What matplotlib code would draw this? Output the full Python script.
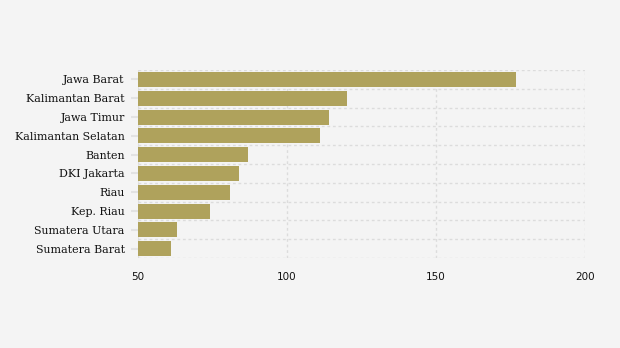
import matplotlib.pyplot as plt
import numpy as np

provinces = ['Jawa Barat', 'Kalimantan Barat', 'Jawa Timur', 'Kalimantan Selatan',
             'Banten', 'DKI Jakarta', 'Riau', 'Kep. Riau', 'Sumatera Utara',
             'Sumatera Barat']
values = [177, 120, 114, 111, 87, 84, 81, 74, 63, 61]
xticks = [50, 100, 150, 200]

bg = '#f4f4f4'
bar_color = '#afa25c'
grid_color = '#dcdcdc'

fig = plt.figure(figsize=(6.2, 3.48), dpi=100, facecolor=bg)
ax = fig.add_axes([0.2226, 0.2586, 0.721, 0.540], facecolor=bg)

ypos = np.arange(len(provinces))
ax.barh(ypos, np.array(values) - 50, left=50, height=0.8, color=bar_color, zorder=2)

ax.set_xlim(50, 200)
ax.set_ylim(len(provinces) - 0.5, -0.5)
ax.set_xticks(xticks)
ax.set_xticklabels([str(t) for t in xticks], fontsize=7.5, family='DejaVu Sans', color='#111111')
ax.set_yticks(ypos)
ax.set_yticklabels(provinces, fontsize=7.9, family='DejaVu Serif', color='#111111')
ax.set_yticks(np.arange(-0.5, len(provinces)), minor=True)

ax.tick_params(axis='x', length=0, pad=10)
ax.tick_params(axis='y', which='major', length=5, color='#e2e2e2', width=1.5, pad=4.5)
ax.tick_params(axis='y', which='minor', length=0)

ax.grid(axis='x', which='major', color=grid_color, linestyle=(0, (2, 2)), linewidth=1, zorder=1)
ax.grid(axis='y', which='minor', color=grid_color, linestyle=(0, (2, 2)), linewidth=1, zorder=1)
for s in ax.spines.values():
    s.set_visible(False)
ax.axvline(50, color='#e2e2e2', linewidth=1.5, zorder=1)

fig.savefig('out.png', dpi=100, facecolor=bg)
